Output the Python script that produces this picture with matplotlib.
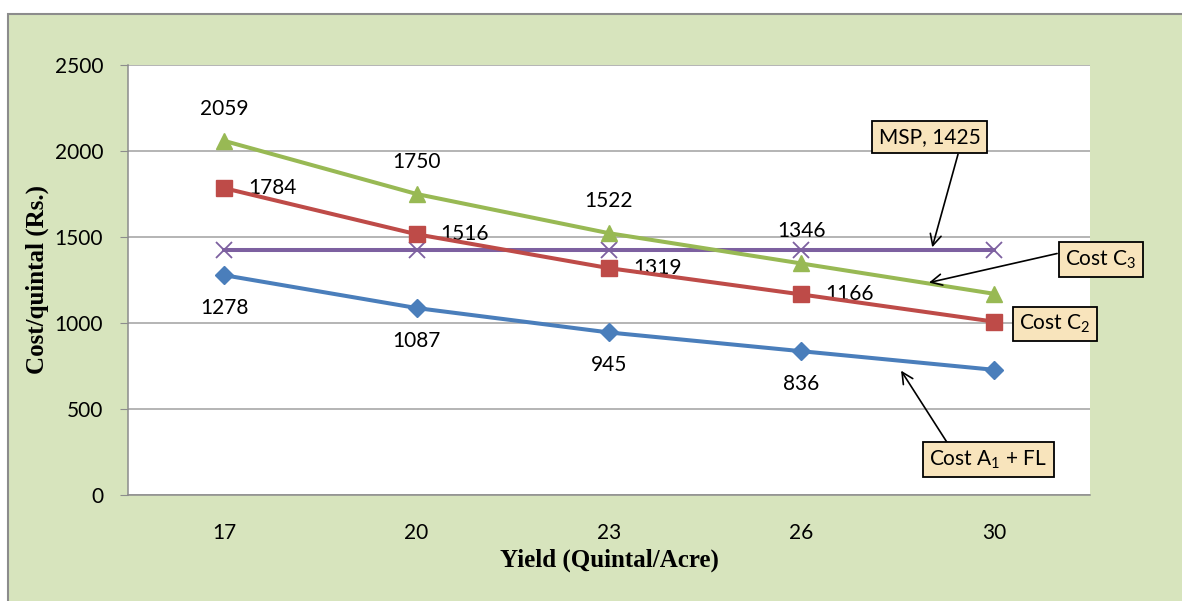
import matplotlib
matplotlib.use("Agg")
import matplotlib.pyplot as plt
from matplotlib.patches import Rectangle

yields = ["17", "20", "23", "26", "30"]
cost_a1_fl = [1278, 1087, 945, 836, 728]
cost_c2 = [1784, 1516, 1319, 1166, 1008]
cost_c3 = [2059, 1750, 1522, 1346, 1170]
msp = [1425, 1425, 1425, 1425, 1425]

label_font = "Lato"
serif_font = "Liberation Serif"
plt.rcParams["mathtext.fontset"] = "custom"
plt.rcParams["mathtext.rm"] = label_font
plt.rcParams["mathtext.it"] = label_font
plt.rcParams["mathtext.default"] = "rm"

fs = 15

fig = plt.figure(figsize=(11.82, 6.01), dpi=100)
fig.patch.set_facecolor("white")
fig.patches.append(Rectangle((8/1182, -0.05), 1.1, 1 - 14/601 + 0.05,
                             transform=fig.transFigure, facecolor="#D7E4BD",
                             edgecolor="#8C8C8C", linewidth=1.5, zorder=-10))

ax = fig.add_axes([128/1182, 1 - 495/601, (1090-128)/1182, (495-65)/601])
ax.set_facecolor("white")
x = list(range(len(yields)))

c_blue, c_red, c_green, c_purple = "#4A7EBB", "#BE4B48", "#98B954", "#7D60A0"
lw = 2.9
ax.plot(x, msp, color=c_purple, lw=lw, marker="x", ms=11, mew=1.3, zorder=3)
ax.plot(x, cost_a1_fl, color=c_blue, lw=lw, marker="D", ms=9, zorder=4)
ax.plot(x, cost_c2, color=c_red, lw=lw, marker="s", ms=11, zorder=4)
ax.plot(x, cost_c3, color=c_green, lw=lw, marker="^", ms=11, zorder=4)

ax.set_xlim(-0.5, len(yields) - 0.5)
ax.set_ylim(0, 2500)
ax.set_yticks(range(0, 2501, 500))
ax.set_xticks(x)
ax.set_xticklabels(yields)
ax.grid(axis="y", color="#A0A0A0", lw=1.1)
ax.set_axisbelow(True)
for s in ["top", "right"]:
    ax.spines[s].set_visible(False)
for s in ["left", "bottom"]:
    ax.spines[s].set_color("#8C8C8C")
    ax.spines[s].set_linewidth(1.1)
ax.tick_params(axis="y", length=6, color="#8C8C8C", pad=12, labelsize=fs)
ax.tick_params(axis="x", length=0, pad=20, labelsize=fs)
for lab in ax.get_xticklabels() + ax.get_yticklabels():
    lab.set_fontfamily(label_font)

ax.set_ylabel("Cost/quintal (Rs.)", fontfamily=serif_font, fontweight="bold",
              fontsize=18, labelpad=4)
ax.set_xlabel("Yield (Quintal/Acre)", fontfamily=serif_font, fontweight="bold",
              fontsize=18, labelpad=4)

# data labels
for i in range(4):
    ax.annotate(str(cost_c3[i]), (x[i], cost_c3[i]), xytext=(0, 32),
                textcoords="offset pixels", ha="center", va="center",
                fontsize=fs, fontfamily=label_font)
    ax.annotate(str(cost_c2[i]), (x[i], cost_c2[i]), xytext=(24, 0),
                textcoords="offset pixels", ha="left", va="center",
                fontsize=fs, fontfamily=label_font)
    ax.annotate(str(cost_a1_fl[i]), (x[i], cost_a1_fl[i]), xytext=(0, -33),
                textcoords="offset pixels", ha="center", va="center",
                fontsize=fs, fontfamily=label_font)

box = dict(boxstyle="square,pad=0.3", facecolor="#F8E4BC", edgecolor="black", lw=1.3)

def callout(text, pos):
    ax.text(pos[0], pos[1], text, ha="center", va="center", fontsize=fs,
            fontfamily=label_font, bbox=box, clip_on=False, zorder=6)

def arrow(start, tip):
    ax.annotate("", xy=tip, xytext=start, annotation_clip=False,
                arrowprops=dict(arrowstyle="->,head_length=0.8,head_width=0.4",
                                color="black", lw=1.2, shrinkA=0, shrinkB=0),
                zorder=5)

callout("MSP, 1425", (3.666, 2080))
arrow((3.814, 1981), (3.68, 1440))
callout("Cost C$_3$", (4.557, 1367))
arrow((4.329, 1404), (3.663, 1235))
callout("Cost C$_2$", (4.318, 994))
callout("Cost A$_1$ + FL", (3.972, 207))
arrow((3.762, 297), (3.518, 723))

fig.savefig("out.png", dpi=100)
